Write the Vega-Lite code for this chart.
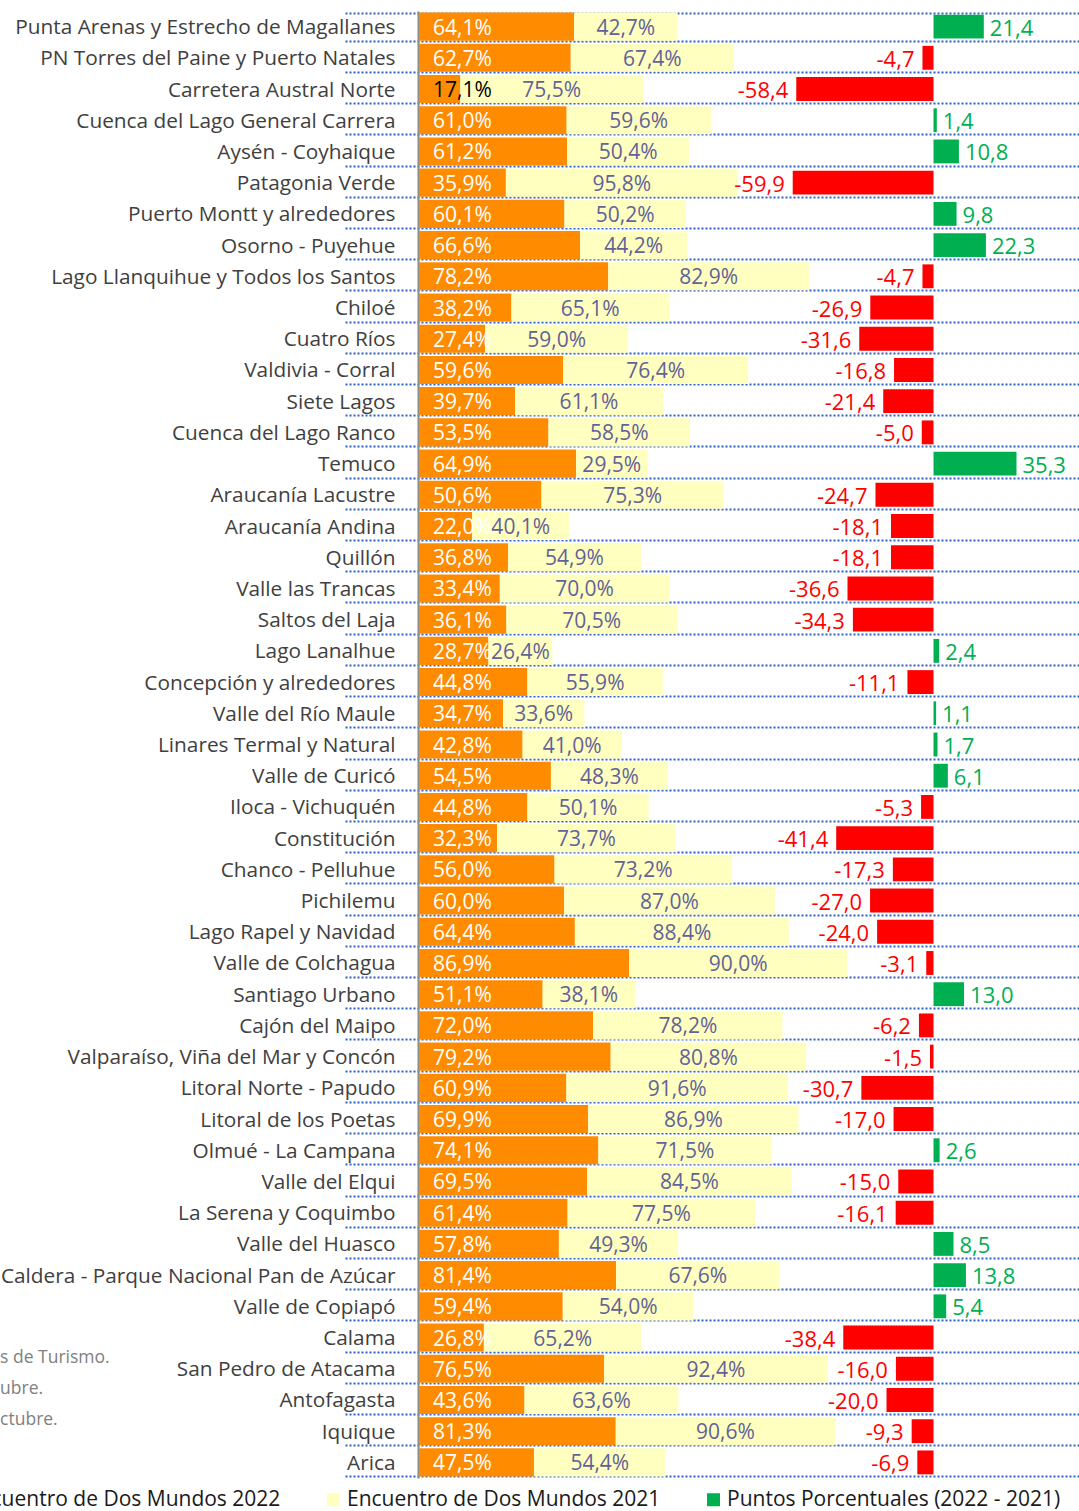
{
  "$schema": "https://vega.github.io/schema/vega-lite/v6.json",
  "width": 734,
  "height": 1467,
  "autosize": {"type": "none"},
  "padding": {"left": 345, "top": 11, "right": 0, "bottom": 33},
  "background": "white",
  "config": {
    "locale": {"number": {"decimal": ",", "thousands": ".", "grouping": [3], "currency": ["", ""], "minus": "-"}},
    "view": {"stroke": null},
    "font": "Open Sans"
  },
  "data": {"values": [
    {"d": "Punta Arenas y Estrecho de Magallanes", "y2022": 0.641, "y2021": 0.427, "pp": 21.4},
    {"d": "PN Torres del Paine y Puerto Natales", "y2022": 0.627, "y2021": 0.674, "pp": -4.7},
    {"d": "Carretera Austral Norte", "y2022": 0.171, "y2021": 0.755, "pp": -58.4},
    {"d": "Cuenca del Lago General Carrera", "y2022": 0.610, "y2021": 0.596, "pp": 1.4},
    {"d": "Aysén - Coyhaique", "y2022": 0.612, "y2021": 0.504, "pp": 10.8},
    {"d": "Patagonia Verde", "y2022": 0.359, "y2021": 0.958, "pp": -59.9},
    {"d": "Puerto Montt y alrededores", "y2022": 0.601, "y2021": 0.502, "pp": 9.8},
    {"d": "Osorno - Puyehue", "y2022": 0.666, "y2021": 0.442, "pp": 22.3},
    {"d": "Lago Llanquihue y Todos los Santos", "y2022": 0.782, "y2021": 0.829, "pp": -4.7},
    {"d": "Chiloé", "y2022": 0.382, "y2021": 0.651, "pp": -26.9},
    {"d": "Cuatro Ríos", "y2022": 0.274, "y2021": 0.590, "pp": -31.6},
    {"d": "Valdivia - Corral", "y2022": 0.596, "y2021": 0.764, "pp": -16.8},
    {"d": "Siete Lagos", "y2022": 0.397, "y2021": 0.611, "pp": -21.4},
    {"d": "Cuenca del Lago Ranco", "y2022": 0.535, "y2021": 0.585, "pp": -5.0},
    {"d": "Temuco", "y2022": 0.649, "y2021": 0.295, "pp": 35.3},
    {"d": "Araucanía Lacustre", "y2022": 0.506, "y2021": 0.753, "pp": -24.7},
    {"d": "Araucanía Andina", "y2022": 0.220, "y2021": 0.401, "pp": -18.1},
    {"d": "Quillón", "y2022": 0.368, "y2021": 0.549, "pp": -18.1},
    {"d": "Valle las Trancas", "y2022": 0.334, "y2021": 0.700, "pp": -36.6},
    {"d": "Saltos del Laja", "y2022": 0.361, "y2021": 0.705, "pp": -34.3},
    {"d": "Lago Lanalhue", "y2022": 0.287, "y2021": 0.264, "pp": 2.4},
    {"d": "Concepción y alrededores", "y2022": 0.448, "y2021": 0.559, "pp": -11.1},
    {"d": "Valle del Río Maule", "y2022": 0.347, "y2021": 0.336, "pp": 1.1},
    {"d": "Linares Termal y Natural", "y2022": 0.428, "y2021": 0.410, "pp": 1.7},
    {"d": "Valle de Curicó", "y2022": 0.545, "y2021": 0.483, "pp": 6.1},
    {"d": "Iloca - Vichuquén", "y2022": 0.448, "y2021": 0.501, "pp": -5.3},
    {"d": "Constitución", "y2022": 0.323, "y2021": 0.737, "pp": -41.4},
    {"d": "Chanco - Pelluhue", "y2022": 0.560, "y2021": 0.732, "pp": -17.3},
    {"d": "Pichilemu", "y2022": 0.600, "y2021": 0.870, "pp": -27.0},
    {"d": "Lago Rapel y Navidad", "y2022": 0.644, "y2021": 0.884, "pp": -24.0},
    {"d": "Valle de Colchagua", "y2022": 0.869, "y2021": 0.900, "pp": -3.1},
    {"d": "Santiago Urbano", "y2022": 0.511, "y2021": 0.381, "pp": 13.0},
    {"d": "Cajón del Maipo", "y2022": 0.720, "y2021": 0.782, "pp": -6.2},
    {"d": "Valparaíso, Viña del Mar y Concón", "y2022": 0.792, "y2021": 0.808, "pp": -1.5},
    {"d": "Litoral Norte - Papudo", "y2022": 0.609, "y2021": 0.916, "pp": -30.7},
    {"d": "Litoral de los Poetas", "y2022": 0.699, "y2021": 0.869, "pp": -17.0},
    {"d": "Olmué - La Campana", "y2022": 0.741, "y2021": 0.715, "pp": 2.6},
    {"d": "Valle del Elqui", "y2022": 0.695, "y2021": 0.845, "pp": -15.0},
    {"d": "La Serena y Coquimbo", "y2022": 0.614, "y2021": 0.775, "pp": -16.1},
    {"d": "Valle del Huasco", "y2022": 0.578, "y2021": 0.493, "pp": 8.5},
    {"d": "Caldera - Parque Nacional Pan de Azúcar", "y2022": 0.814, "y2021": 0.676, "pp": 13.8},
    {"d": "Valle de Copiapó", "y2022": 0.594, "y2021": 0.540, "pp": 5.4},
    {"d": "Calama", "y2022": 0.268, "y2021": 0.652, "pp": -38.4},
    {"d": "San Pedro de Atacama", "y2022": 0.765, "y2021": 0.924, "pp": -16.0},
    {"d": "Antofagasta", "y2022": 0.436, "y2021": 0.636, "pp": -20.0},
    {"d": "Iquique", "y2022": 0.813, "y2021": 0.906, "pp": -9.3},
    {"d": "Arica", "y2022": 0.475, "y2021": 0.544, "pp": -6.9}
  ]},
  "encoding": {
    "y": {
      "field": "d", "type": "nominal", "sort": null,
      "scale": {
        "paddingInner": 0.1, "paddingOuter": 0.05,
        "domain": ["Punta Arenas y Estrecho de Magallanes", "PN Torres del Paine y Puerto Natales", "Carretera Austral Norte", "Cuenca del Lago General Carrera", "Aysén - Coyhaique", "Patagonia Verde", "Puerto Montt y alrededores", "Osorno - Puyehue", "Lago Llanquihue y Todos los Santos", "Chiloé", "Cuatro Ríos", "Valdivia - Corral", "Siete Lagos", "Cuenca del Lago Ranco", "Temuco", "Araucanía Lacustre", "Araucanía Andina", "Quillón", "Valle las Trancas", "Saltos del Laja", "Lago Lanalhue", "Concepción y alrededores", "Valle del Río Maule", "Linares Termal y Natural", "Valle de Curicó", "Iloca - Vichuquén", "Constitución", "Chanco - Pelluhue", "Pichilemu", "Lago Rapel y Navidad", "Valle de Colchagua", "Santiago Urbano", "Cajón del Maipo", "Valparaíso, Viña del Mar y Concón", "Litoral Norte - Papudo", "Litoral de los Poetas", "Olmué - La Campana", "Valle del Elqui", "La Serena y Coquimbo", "Valle del Huasco", "Caldera - Parque Nacional Pan de Azúcar", "Valle de Copiapó", "Calama", "San Pedro de Atacama", "Antofagasta", "Iquique", "Arica"]
      },
      "axis": {
        "title": null,
        "domain": true, "domainColor": "#8c8c8c", "domainWidth": 2,
        "ticks": false, "tickSize": 0,
        "offset": -73, "labelPadding": 23, "labelOffset": 1,
        "labelFont": "Open Sans", "labelFontSize": 20.8, "labelColor": "#404040",
        "labelLimit": 600, "labelAlign": "right", "labelBaseline": "middle",
        "grid": true, "tickBand": "extent",
        "gridColor": "#2E62C4", "gridDash": [2, 2], "gridWidth": 2
      }
    }
  },
  "layer": [
    {
      "transform": [{"fold": ["y2022", "y2021"], "as": ["serie", "valor"]}],
      "mark": {"type": "bar"},
      "encoding": {
        "x": {"field": "valor", "type": "quantitative", "stack": "zero",
              "scale": {"domain": [-0.3058, 2.727], "nice": false, "zero": false}, "axis": null},
        "color": {
          "field": "serie", "type": "nominal",
          "scale": {"domain": ["y2022", "y2021", "pp"], "range": ["#FF8C00", "#FFFFBF", "#00B050"]},
          "legend": {
            "title": null, "orient": "none", "direction": "horizontal",
            "legendX": -402, "legendY": 1478,
            "symbolType": "square", "symbolSize": 169, "symbolStrokeWidth": 0,
            "labelOffset": 3, "columnPadding": 42,
            "labelFont": "Open Sans", "labelFontSize": 21, "labelColor": "#1a1a1a", "labelLimit": 600,
            "labelExpr": "datum.label == 'y2022' ? 'Encuentro de Dos Mundos 2022' : datum.label == 'y2021' ? 'Encuentro de Dos Mundos 2021' : 'Puntos Porcentuales (2022 - 2021)'"
          }
        },
        "order": {"field": "serie", "type": "ordinal", "sort": "descending"}
      }
    },
    {
      "transform": [{"fold": ["y2022", "y2021"], "as": ["serie", "valor"]}],
      "mark": {"type": "text", "fontSize": 21, "font": "Open Sans", "color": "#62629A", "baseline": "middle", "align": "center", "dy": 2},
      "encoding": {
        "x": {"field": "valor", "type": "quantitative", "stack": "zero", "bandPosition": 0.5,
              "scale": {"domain": [-0.3058, 2.727], "nice": false, "zero": false}, "axis": null},
        "detail": {"field": "serie", "type": "nominal"},
        "order": {"field": "serie", "type": "ordinal", "sort": "descending"},
        "text": {"condition": {"test": "datum.serie == 'y2022'", "value": ""}, "field": "valor", "type": "quantitative", "format": ".1%"}
      }
    },
    {
      "mark": {"type": "text", "fontSize": 21, "font": "Open Sans", "align": "left", "baseline": "middle", "dx": 14, "dy": 2},
      "encoding": {
        "x": {"datum": 0, "type": "quantitative",
              "scale": {"domain": [-0.3058, 2.727], "nice": false, "zero": false}, "axis": null},
        "text": {"field": "y2022", "type": "quantitative", "format": ".1%"},
        "color": {"condition": {"test": "datum.y2022 < 0.2", "value": "#000000"}, "value": "#FFFFFF"}
      }
    },
    {
      "mark": {"type": "bar", "height": {"band": 0.85}},
      "encoding": {
        "x": {"field": "pp", "type": "quantitative", "stack": null,
              "scale": {"domain": [-250.4, 61.9], "nice": false, "zero": false}, "axis": null},
        "color": {"condition": {"test": "datum.pp < 0", "value": "#FF0000"}, "datum": "pp", "type": "nominal"}
      }
    },
    {
      "transform": [{"filter": "datum.pp < 0"}],
      "mark": {"type": "text", "fontSize": 22, "font": "Open Sans", "align": "right", "baseline": "middle", "dx": -8, "dy": 2, "color": "#FF0000"},
      "encoding": {
        "x": {"field": "pp", "type": "quantitative",
              "scale": {"domain": [-250.4, 61.9], "nice": false, "zero": false}, "axis": null},
        "text": {"field": "pp", "type": "quantitative", "format": ".1f"}
      }
    },
    {
      "transform": [{"filter": "datum.pp >= 0"}],
      "mark": {"type": "text", "fontSize": 22, "font": "Open Sans", "align": "left", "baseline": "middle", "dx": 6, "dy": 2, "color": "#00B050"},
      "encoding": {
        "x": {"field": "pp", "type": "quantitative",
              "scale": {"domain": [-250.4, 61.9], "nice": false, "zero": false}, "axis": null},
        "text": {"field": "pp", "type": "quantitative", "format": ".1f"}
      }
    },
    {
      "data": {"values": [
        {"d": "Calama", "nota": "s de Turismo."},
        {"d": "San Pedro de Atacama", "nota": "ubre."},
        {"d": "Antofagasta", "nota": "ctubre."}
      ]},
      "mark": {"type": "text", "fontSize": 17.5, "font": "Open Sans", "align": "left", "baseline": "middle", "dy": 20, "color": "#808080"},
      "encoding": {
        "x": {"datum": -1.731, "type": "quantitative",
              "scale": {"domain": [-0.3058, 2.727], "nice": false, "zero": false}, "axis": null},
        "text": {"field": "nota", "type": "nominal"}
      }
    }
  ],
  "resolve": {"scale": {"x": "independent"}}
}
